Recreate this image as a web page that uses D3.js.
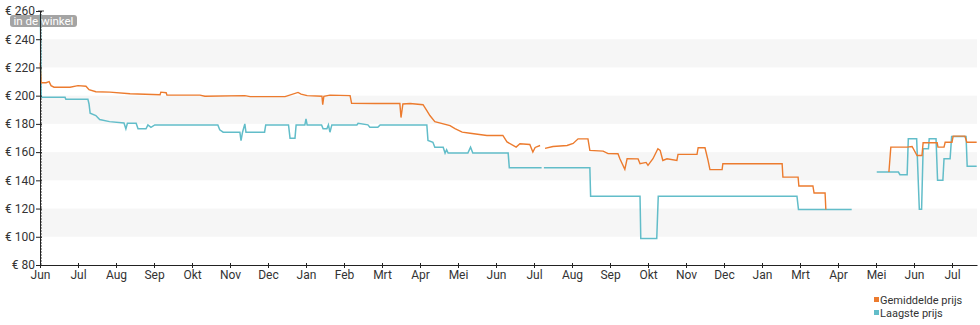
<!DOCTYPE html>
<html lang="nl">
<head>
    <meta charset="UTF-8">
    <title>prijsgeschiedenis</title>
    <script src="https://d3js.org/d3.v7.min.js"></script>
    <style>
        body { margin: 0; background: #fff; }
        svg { font-family: Roboto, "Open Sans", sans-serif; }
    </style>
</head>
<body>
    <div class="canvas"></div>
    <script>
      // maanden sinds start, prijs in euro (null = geen data)
      const monthLabels = ['Jun', 'Jul', 'Aug', 'Sep', 'Okt', 'Nov', 'Dec', 'Jan', 'Feb', 'Mrt', 'Apr', 'Mei',
                           'Jun', 'Jul', 'Aug', 'Sep', 'Okt', 'Nov', 'Dec', 'Jan', 'Mrt', 'Apr', 'Mei', 'Jun', 'Jul'];
      const priceTicks = [80, 100, 120, 140, 160, 180, 200, 220, 240, 260];

      const gemiddeldePrijs = [
        [0.005, 223.3], [0.03, 209.2], [0.16, 209.2], [0.24, 209.9], [0.29, 207.1], [0.37, 206.0],
        [0.79, 206.0], [1.0, 207.1], [1.21, 206.7], [1.29, 204.2], [1.47, 202.8], [1.84, 202.5],
        [2.37, 201.4], [3.16, 200.7], [3.18, 202.5], [3.32, 202.1], [3.34, 200.5], [4.21, 200.4],
        [4.34, 199.6], [5.39, 200.0], [5.53, 199.3], [6.45, 199.3], [6.79, 202.3], [6.87, 201.1],
        [7.03, 200.0], [7.42, 199.6], [7.44, 193.6], [7.47, 199.6], [7.63, 200.4], [8.16, 200.0],
        [8.20, 194.6], [8.82, 194.4], [9.47, 194.4], [9.50, 184.5], [9.55, 194.1], [9.74, 194.4],
        [10.08, 193.6], [10.18, 189.4], [10.26, 185.9], [10.39, 181.6], [10.79, 178.8], [10.92, 176.7],
        [11.11, 174.2], [11.32, 173.4], [11.76, 171.8], [12.18, 171.8], [12.29, 167.2], [12.53, 163.6],
        [12.63, 165.9], [12.89, 165.4], [12.97, 160.0], [13.03, 163.3], [13.16, 164.7], null,
        [13.29, 162.6], [13.50, 164.0], [13.87, 164.7], [14.03, 166.1], [14.16, 169.4], [14.42, 169.4],
        [14.47, 161.2], [14.82, 160.7], [14.95, 158.9], [15.21, 158.8], [15.26, 155.3], [15.39, 147.8],
        [15.45, 155.3], [15.74, 155.2], [15.79, 151.8], [15.95, 152.7], [16.0, 150.6], [16.13, 155.3],
        [16.26, 162.4], [16.32, 161.2], [16.39, 154.1], [16.50, 155.3], [16.76, 154.1], [16.79, 158.4],
        [17.29, 158.4], [17.32, 163.1], [17.5, 163.1], [17.58, 154.1], [17.63, 147.6], [17.95, 147.6],
        [17.97, 151.8], [19.53, 151.8], [19.55, 142.3], [19.95, 142.3], [19.97, 136.0], [20.34, 136.0],
        [20.37, 131.0], [20.66, 131.0], [20.68, 119.3], null,
        [22.34, 145.9], [22.39, 163.5], [22.82, 163.5], [22.95, 164.0], [23.08, 157.6], [23.21, 157.6],
        [23.24, 166.6], [23.61, 166.6], [23.63, 163.5], [23.79, 163.5], [23.82, 167.0], [24.0, 167.0],
        [24.03, 171.3], [24.34, 171.3], [24.39, 167.0], [24.65, 167.0]
      ];

      const laagstePrijs = [
        [0.01, 257.9], [0.03, 198.8], [0.66, 198.8], [0.68, 197.5], [1.26, 197.5], [1.29, 194.1],
        [1.32, 187.5], [1.47, 185.9], [1.57, 183.1], [1.83, 181.6], [2.21, 180.6], [2.26, 176.5],
        [2.30, 180.4], [2.53, 180.4], [2.58, 176.5], [2.79, 176.5], [2.84, 179.3], [2.92, 177.6],
        [3.02, 179.3], [4.68, 179.3], [4.73, 175.8], [4.82, 174.1], [5.26, 174.1], [5.29, 168.2],
        [5.33, 174.1], [5.39, 180.0], [5.42, 174.1], [5.91, 174.1], [5.94, 179.3], [6.54, 179.3],
        [6.58, 169.9], [6.71, 169.9], [6.74, 179.3], [6.97, 179.3], [7.0, 183.5], [7.03, 179.3],
        [7.41, 179.3], [7.45, 176.5], [7.55, 176.5], [7.59, 179.3], [7.63, 174.1], [7.68, 179.3],
        [8.34, 179.3], [8.37, 180.4], [8.63, 179.3], [8.68, 177.6], [8.89, 177.6], [8.95, 179.3],
        [10.18, 179.3], [10.21, 168.2], [10.34, 167.0], [10.39, 163.5], [10.61, 163.5], [10.66, 159.3],
        [10.70, 161.7], [10.74, 159.3], [11.26, 159.3], [11.33, 163.5], [11.39, 159.3], [12.32, 159.3],
        [12.35, 149.0], [13.20, 149.0], null,
        [13.26, 149.0], [14.47, 149.0], [14.49, 128.7], [15.79, 128.7], [15.81, 98.8], [16.23, 98.8],
        [16.27, 128.7], [19.92, 128.7], [19.96, 119.3], [21.36, 119.3], null,
        [22.02, 145.9], [22.59, 145.9], [22.63, 144.0], [22.82, 144.0], [22.85, 169.4], [23.07, 169.4],
        [23.14, 119.5], [23.2, 119.5], [23.24, 162.4], [23.38, 162.4], [23.40, 169.4], [23.58, 169.4],
        [23.62, 140.0], [23.76, 140.0], [23.79, 155.3], [23.95, 155.3], [23.99, 171.0], [24.37, 171.0],
        [24.40, 149.9], [24.65, 149.9]
      ];

      const ORANGE = '#ec7b2e';
      const TEAL = '#62bdc9';
      const width = 980;
      const height = 325;
      const [ml, mr, mt, mb] = [40, 3, 11, 60];

      const svg = d3.select('.canvas')
                      .append('svg')
                      .attr('width', width)
                      .attr('height', height);

      const x = d3.scaleLinear()
                    .domain([0, (width - mr - ml) / 38])
                    .range([ml, width - mr]);

      const y = d3.scaleLinear()
                    .domain([80, 260])
                    .range([height - mb, mt]);

      // grijze banden
      svg.append('g')
        .selectAll('rect')
        .data([100, 140, 180, 220])
        .enter()
        .append('rect')
        .attr('x', x(0))
        .attr('width', x.range()[1] - x(0))
        .attr('y', d => y(d + 20))
        .attr('height', d => y(d) - y(d + 20))
        .attr('fill', '#f6f6f6');

      // in de winkel markering
      svg.append('line')
        .attr('x1', x(0) + 1).attr('x2', x(0) + 1)
        .attr('y1', y(260)).attr('y2', y(80))
        .attr('stroke', '#444')
        .attr('stroke-dasharray', '2,1');
      svg.append('line')
        .attr('x1', x(0) - 2).attr('x2', x(0) + 4)
        .attr('y1', y(260)).attr('y2', y(260))
        .attr('stroke', '#444');

      const tag = svg.append('g').attr('transform', `translate(10, ${y(260) + 4})`);
      tag.append('rect')
        .attr('width', 67).attr('height', 12).attr('rx', 3)
        .attr('fill', '#9a9a9a').attr('opacity', 0.9);
      tag.append('text')
        .attr('x', 33.5).attr('y', 10)
        .attr('text-anchor', 'middle')
        .attr('fill', '#fff')
        .style('font-size', '11.5px')
        .text('in de winkel');

      const line = d3.line()
                      .defined(d => d !== null)
                      .x(d => x(d[0]))
                      .y(d => y(d[1]));

      svg.append('path')
        .attr('fill', 'none')
        .attr('stroke', TEAL)
        .attr('stroke-width', 1.5)
        .attr('d', line(laagstePrijs));

      svg.append('path')
        .attr('fill', 'none')
        .attr('stroke', ORANGE)
        .attr('stroke-width', 1.4)
        .attr('d', line(gemiddeldePrijs));

      // assen
      const xAxis = d3.axisBottom(x)
                        .tickValues(d3.range(monthLabels.length))
                        .tickFormat(i => monthLabels[i])
                        .tickSizeOuter(0);
      const yAxis = d3.axisLeft(y)
                        .tickValues(priceTicks)
                        .tickFormat(d => '€ ' + d)
                        .tickSizeOuter(0);

      const xAxisG = svg.append('g')
                          .attr('transform', `translate(0, ${y(80)})`)
                          .call(xAxis);
      xAxisG.selectAll('.tick line').attr('y1', -2).attr('y2', 3);
      xAxisG.selectAll('.tick text').attr('y', 5).attr('dy', '0.71em');

      const yAxisG = svg.append('g')
                          .attr('transform', `translate(${x(0)}, 0)`)
                          .call(yAxis);
      yAxisG.selectAll('.tick line').attr('x1', 2).attr('x2', -4);
      yAxisG.selectAll('.tick text').attr('x', -5);

      svg.selectAll('.domain').attr('stroke', '#222');
      svg.selectAll('.tick line').attr('stroke', '#222');
      svg.selectAll('.tick text')
        .attr('fill', '#333')
        .style('font-size', '12px')
        .style('font-family', 'Roboto, sans-serif');

      // legenda
      const legend = svg.append('g').attr('transform', 'translate(874, 296)');
      [['Gemiddelde prijs', ORANGE], ['Laagste prijs', TEAL]].forEach(([name, color], i) => {
        legend.append('rect')
          .attr('x', 0).attr('y', i * 13 + 1)
          .attr('width', 5).attr('height', 5)
          .attr('fill', color);
        legend.append('text')
          .attr('x', 6).attr('y', i * 13 + 8)
          .attr('fill', '#333')
          .style('font-size', '11px')
          .text(name);
      });
    </script>
</body>
</html>
